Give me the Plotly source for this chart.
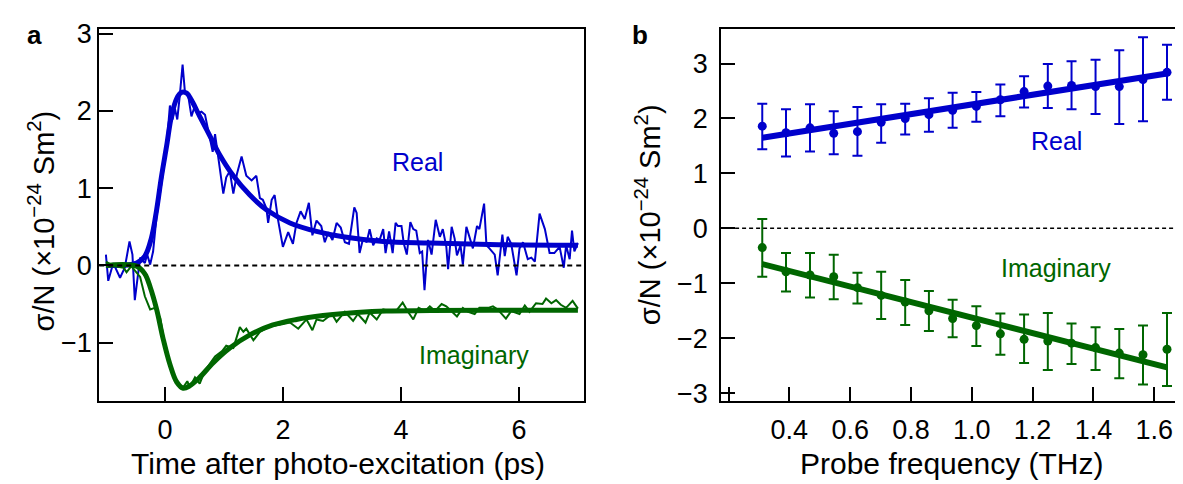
import plotly.graph_objects as go

# ---------------- Panel a: time traces ----------------
t_real = [-1.00, -0.96, -0.875, -0.76, -0.68, -0.60, -0.55, -0.51, -0.42, -0.34, -0.30, -0.25, -0.20,
          -0.14, -0.06, 0.02, 0.085, 0.13, 0.17, 0.21, 0.25, 0.30, 0.34, 0.39, 0.45, 0.51, 0.56, 0.62,
          0.68, 0.76, 0.81, 0.85, 0.90, 0.99, 1.04, 1.10, 1.16, 1.22, 1.30, 1.38, 1.47, 1.55, 1.61,
          1.66, 1.72, 1.75, 1.81, 1.86, 1.92, 2.00, 2.09, 2.17, 2.23, 2.30, 2.37, 2.44, 2.50, 2.57,
          2.65, 2.71, 2.77, 2.84, 2.91, 2.98, 3.05, 3.12, 3.21, 3.25, 3.30, 3.36, 3.42, 3.47, 3.53,
          3.59, 3.64, 3.70, 3.74, 3.80, 3.86, 3.91, 3.95, 4.01, 4.05, 4.10, 4.16, 4.21, 4.26, 4.32,
          4.36, 4.40, 4.46, 4.52, 4.59, 4.66, 4.71, 4.77, 4.80, 4.86, 4.91, 4.95, 5.01, 5.05, 5.11,
          5.17, 5.22, 5.29, 5.33, 5.41, 5.45, 5.50, 5.59, 5.64, 5.72, 5.76, 5.81, 5.87, 5.96, 6.01,
          6.07, 6.15, 6.21, 6.27, 6.35, 6.44, 6.52, 6.60, 6.69, 6.76, 6.80, 6.86, 6.90, 6.94, 7.00]
real_trace = [0.14, -0.20, 0.03, -0.16, -0.03, 0.31, 0.14, -0.45, 0.10, 0.03, 0.14, 0.01, 0.18,
              0.64, 1.05, 1.47, 2.07, 1.89, 2.03, 1.89, 2.18, 2.60, 2.24, 2.22, 1.93, 2.07, 1.97, 1.99,
              1.95, 1.64, 1.47, 1.70, 1.41, 0.93, 1.14, 1.22, 0.93, 1.18, 1.41, 1.16, 1.10, 1.16, 0.87,
              0.85, 0.74, 0.55, 0.85, 0.91, 0.58, 0.24, 0.43, 0.28, 0.55, 0.70, 0.60, 0.81, 0.39, 0.58,
              0.51, 0.30, 0.43, 0.33, 0.55, 0.49, 0.30, 0.28, 0.75, 0.68, 0.16, 0.35, 0.30, 0.47, 0.26,
              0.35, 0.33, 0.47, 0.16, 0.44, 0.16, 0.55, 0.51, 0.51, 0.28, 0.14, 0.56, 0.47, 0.45, 0.16,
              0.18, -0.32, 0.33, 0.14, 0.59, 0.37, 0.47, 0.24, -0.05, 0.50, 0.35, 0.13, 0.26, 0.01, 0.50,
              0.33, 0.22, 0.51, 0.47, 0.80, 0.26, 0.22, 0.14, -0.13, 0.40, 0.12, 0.37, 0.28, -0.13, 0.22,
              0.30, 0.08, 0.10, 0.05, 0.67, 0.47, 0.16, 0.16, 0.24, -0.03, 0.26, 0.08, 0.45, 0.18, 0.29]

t_real_fit = [-1.0, -0.48, -0.34, -0.23, -0.14, -0.06, 0.03, 0.11, 0.20, 0.28, 0.37, 0.45, 0.59,
              0.76, 0.93, 1.16, 1.44, 1.72, 2.12, 2.57, 3.02, 3.70, 4.5, 5.5, 7.0]
real_fit = [0.0, 0.03, 0.12, 0.35, 0.72, 1.14, 1.55, 1.93, 2.16, 2.24, 2.23, 2.14, 1.93,
            1.68, 1.43, 1.16, 0.91, 0.72, 0.55, 0.44, 0.37, 0.31, 0.29, 0.27, 0.26]

t_imag = [-1.00, -0.87, -0.70, -0.65, -0.57, -0.42, -0.34, -0.25, -0.17, -0.08, 0.00, 0.11, 0.23,
          0.31, 0.38, 0.42, 0.51, 0.59, 0.68, 0.85, 0.97, 1.04, 1.16, 1.27, 1.33, 1.38, 1.50, 1.61,
          1.78, 1.95, 2.12, 2.26, 2.40, 2.50, 2.57, 2.68, 2.83, 2.91, 3.05, 3.19, 3.27, 3.40, 3.47,
          3.59, 3.70, 3.81, 3.92, 4.03, 4.12, 4.21, 4.30, 4.41, 4.49, 4.58, 4.69, 4.77, 4.95, 5.05,
          5.13, 5.25, 5.33, 5.48, 5.56, 5.64, 5.78, 5.87, 6.01, 6.10, 6.18, 6.29, 6.40, 6.46, 6.55,
          6.63, 6.71, 6.80, 6.91, 7.00]
imag_trace = [0.05, -0.01, -0.03, -0.09, -0.01, -0.15, -0.40, -0.57, -0.55, -0.68, -1.03, -1.36, -1.53,
              -1.58, -1.50, -1.58, -1.45, -1.53, -1.36, -1.18, -1.11, -1.04, -1.07, -0.80, -0.86, -0.82,
              -0.97, -0.86, -0.79, -0.77, -0.74, -0.82, -0.70, -0.84, -0.70, -0.72, -0.63, -0.73, -0.60,
              -0.72, -0.63, -0.74, -0.61, -0.70, -0.57, -0.59, -0.59, -0.48, -0.60, -0.70, -0.55, -0.59,
              -0.53, -0.59, -0.50, -0.53, -0.66, -0.55, -0.60, -0.63, -0.55, -0.55, -0.53, -0.57, -0.69,
              -0.59, -0.63, -0.52, -0.60, -0.49, -0.50, -0.43, -0.49, -0.45, -0.51, -0.55, -0.46, -0.56]

t_imag_fit = [-1.0, -0.48, -0.34, -0.25, -0.14, -0.03, 0.085, 0.20, 0.31, 0.42, 0.59, 0.82, 1.10,
              1.44, 1.83, 2.23, 2.68, 3.25, 3.75, 4.5, 5.5, 7.0]
imag_fit = [0.0, -0.01, -0.11, -0.28, -0.57, -0.95, -1.28, -1.51, -1.59, -1.56, -1.45, -1.26, -1.07,
            -0.90, -0.77, -0.70, -0.65, -0.61, -0.59, -0.585, -0.58, -0.58]

# ---------------- Panel b: spectra ----------------
freq = [0.311, 0.389, 0.468, 0.546, 0.624, 0.702, 0.781, 0.859, 0.937, 1.015, 1.094, 1.172,
        1.250, 1.328, 1.407, 1.485, 1.563, 1.642]
real_b = [1.86, 1.74, 1.83, 1.73, 1.76, 1.93, 2.00, 2.07, 2.15, 2.22, 2.34, 2.49,
          2.59, 2.60, 2.58, 2.58, 2.71, 2.84]
real_hi = [2.27, 2.17, 2.26, 2.13, 2.21, 2.26, 2.27, 2.37, 2.47, 2.48, 2.62, 2.77,
           2.99, 3.04, 3.07, 3.24, 3.48, 3.34]
real_lo = [1.44, 1.31, 1.40, 1.35, 1.32, 1.56, 1.71, 1.76, 1.83, 1.94, 2.04, 2.20,
           2.19, 2.17, 2.08, 1.90, 1.95, 2.34]
imag_b = [-0.35, -0.79, -0.85, -0.88, -1.08, -1.22, -1.34, -1.50, -1.64, -1.77, -1.92, -2.02,
          -2.05, -2.09, -2.17, -2.27, -2.30, -2.20]
imag_hi = [0.17, -0.45, -0.45, -0.48, -0.81, -0.79, -0.94, -1.14, -1.30, -1.42, -1.55, -1.57,
           -1.54, -1.73, -1.80, -1.83, -1.77, -1.54]
imag_lo = [-0.88, -1.15, -1.26, -1.29, -1.37, -1.65, -1.76, -1.87, -1.98, -2.14, -2.30, -2.45,
           -2.58, -2.47, -2.58, -2.73, -2.84, -2.87]
fit_f = [0.311, 1.642]
real_b_fit = [1.65, 2.82]
imag_b_fit = [-0.65, -2.53]

BLUE = "#0000CC"
GREEN = "#006600"
FONT = "Liberation Sans, Arial, sans-serif"

# page body has an 8px default margin: lay out in window pixels, shifted by it
OFF = 8
W, H = 1183 - OFF, 484 - OFF


def fx(X):
    return (X - OFF) / W


def fy(Y):
    return 1 - (Y - OFF) / H


fig = go.Figure()

# panel a
fig.add_trace(go.Scatter(x=t_real, y=real_trace, mode="lines", line=dict(color=BLUE, width=2),
                         xaxis="x", yaxis="y", showlegend=False))
fig.add_trace(go.Scatter(x=t_real_fit, y=real_fit, mode="lines", line=dict(color=BLUE, width=5, shape="spline"),
                         xaxis="x", yaxis="y", showlegend=False))
fig.add_trace(go.Scatter(x=t_imag, y=imag_trace, mode="lines", line=dict(color=GREEN, width=2),
                         xaxis="x", yaxis="y", showlegend=False))
fig.add_trace(go.Scatter(x=t_imag_fit, y=imag_fit, mode="lines", line=dict(color=GREEN, width=5, shape="spline"),
                         xaxis="x", yaxis="y", showlegend=False))


# panel b
def err(hi, lo, mid):
    return [h - m for h, m in zip(hi, mid)], [m - l for l, m in zip(lo, mid)]


rp, rm = err(real_hi, real_lo, real_b)
ip, im = err(imag_hi, imag_lo, imag_b)
fig.add_trace(go.Scatter(x=fit_f, y=real_b_fit, mode="lines", line=dict(color=BLUE, width=6),
                         xaxis="x2", yaxis="y2", showlegend=False))
fig.add_trace(go.Scatter(x=fit_f, y=imag_b_fit, mode="lines", line=dict(color=GREEN, width=6),
                         xaxis="x2", yaxis="y2", showlegend=False))
fig.add_trace(go.Scatter(x=freq, y=real_b, mode="markers", marker=dict(color=BLUE, size=9),
                         error_y=dict(type="data", symmetric=False, array=rp, arrayminus=rm,
                                      color=BLUE, thickness=2, width=5),
                         xaxis="x2", yaxis="y2", showlegend=False))
fig.add_trace(go.Scatter(x=freq, y=imag_b, mode="markers", marker=dict(color=GREEN, size=9),
                         error_y=dict(type="data", symmetric=False, array=ip, arrayminus=im,
                                      color=GREEN, thickness=2, width=5),
                         xaxis="x2", yaxis="y2", showlegend=False))

axis_common = dict(showline=True, linecolor="black", linewidth=2, mirror=True, ticks="inside",
                   ticklen=14, tickwidth=2, tickcolor="black", showgrid=False, zeroline=False,
                   tickfont=dict(family=FONT, size=27, color="black"))

ydom = [fy(405.5), fy(19.5)]
fig.update_layout(
    width=W, height=H, margin=dict(l=0, r=0, t=0, b=0),
    paper_bgcolor="white", plot_bgcolor="white",
    xaxis=dict(domain=[fx(99.3), fx(584.3)], range=[-1.113, 7.10], tickvals=[0, 2, 4, 6],
               anchor="y", ticklabelstandoff=3, **axis_common),
    yaxis=dict(domain=ydom, range=[-1.76, 3.06], tickvals=[-1, 0, 1, 2, 3],
               ticktext=["\u22121", "0", "1", "2", "3"], anchor="x", ticklabelstandoff=0, **axis_common),
    xaxis2=dict(domain=[fx(721.7), fx(1181.7)], range=[0.1756, 1.687],
                tickvals=[0.2, 0.4, 0.6, 0.8, 1.0, 1.2, 1.4, 1.6],
                ticktext=["", "0.4", "0.6", "0.8", "1.0", "1.2", "1.4", "1.6"],
                anchor="y2", ticklabelstandoff=3, **axis_common),
    yaxis2=dict(domain=ydom, range=[-3.148, 3.627], tickvals=[-3, -2, -1, 0, 1, 2, 3],
                ticktext=["\u22123", "\u22122", "\u22121", "0", "1", "2", "3"],
                anchor="x2", ticklabelstandoff=6, **axis_common),
)

fig.add_shape(type="line", xref="x domain", yref="y", x0=0, x1=1, y0=0, y1=0,
              line=dict(color="black", width=2, dash="5px,4px"))
fig.add_shape(type="line", xref="x2 domain", yref="y2", x0=0, x1=1, y0=0, y1=0,
              line=dict(color="black", width=1.5, dash="4px,3px"))

ytitle = "\u03c3/N (\u00d710<sup>\u221224</sup> Sm<sup>2</sup>)"
ann = [
    dict(text="<b>a</b>", x=35, y=26, font=dict(size=26)),
    dict(text="<b>b</b>", x=641, y=26, font=dict(size=26)),
    dict(text=ytitle, x=41, y=218, textangle=-90, font=dict(size=29)),
    dict(text=ytitle, x=648, y=212, textangle=-90, font=dict(size=29)),
    dict(text="Time after photo-excitation (ps)", x=338, y=470, font=dict(size=30)),
    dict(text="Probe frequency (THz)", x=952, y=470, font=dict(size=30)),
    dict(text="Real", x=418, y=157, font=dict(size=25, color=BLUE)),
    dict(text="Imaginary", x=474, y=357, font=dict(size=25, color=GREEN)),
    dict(text="Real", x=1057, y=136, font=dict(size=25, color=BLUE)),
    dict(text="Imaginary", x=1057, y=267, font=dict(size=25, color=GREEN)),
]
for a in ann:
    f = dict(family=FONT, color="black")
    f.update(a.pop("font"))
    fig.add_annotation(xref="paper", yref="paper", x=fx(a.pop("x")), y=fy(a.pop("y")),
                       xanchor="center", yanchor="middle", showarrow=False, font=f, **a)

fig.write_html("out.html")
